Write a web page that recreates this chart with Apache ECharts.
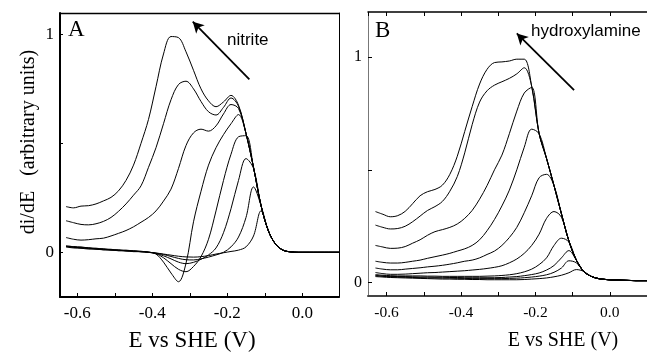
<!DOCTYPE html>
<html>
<head>
<meta charset="utf-8">
<script src="https://cdn.jsdelivr.net/npm/echarts@6/dist/echarts.min.js"></script>
<style>html,body{margin:0;padding:0;background:#fff}#c{width:647px;height:356px}</style>
</head>
<body>
<div id="c"></div>
<script>
// Potential grid (V vs SHE), shared by both panels
const E = [-0.63,-0.61,-0.59,-0.57,-0.55,-0.53,-0.51,-0.49,-0.47,-0.45,-0.43,-0.41,-0.39,-0.37,-0.35,-0.33,-0.31,-0.29,-0.27,-0.25,-0.23,-0.21,-0.19,-0.17,-0.15,-0.13,-0.11,-0.09,-0.07,-0.05,-0.03,-0.01,0.01,0.03,0.05,0.07,0.09,0.10];

// Panel A: nitrite titration (low -> high)
const A1 = [0.025,0.020,0.019,0.015,0.015,0.011,0.011,0.007,0.007,0.003,0.003,0.000,-0.003,-0.008,-0.013,-0.018,-0.021,-0.022,-0.020,-0.015,-0.008,-0.002,0.004,0.010,0.025,0.075,0.190,0.097,0.035,0.009,0.002,0,0,0,0,0,0,0];
const A2 = [0.026,0.022,0.021,0.017,0.016,0.012,0.012,0.008,0.008,0.004,0.004,0.000,-0.004,-0.010,-0.019,-0.028,-0.034,-0.035,-0.030,-0.022,-0.012,0.000,0.025,0.070,0.160,0.300,0.215,0.097,0.035,0.009,0.002,0,0,0,0,0,0,0];
const A3 = [0.027,0.024,0.020,0.019,0.015,0.014,0.010,0.010,0.006,0.006,0.002,0.001,-0.005,-0.016,-0.030,-0.045,-0.052,-0.046,-0.032,-0.012,0.020,0.090,0.200,0.330,0.430,0.385,0.215,0.097,0.035,0.009,0.002,0,0,0,0,0,0,0];
const A4 = [0.028,0.026,0.021,0.021,0.016,0.016,0.011,0.011,0.007,0.007,0.003,0.001,-0.006,-0.025,-0.052,-0.078,-0.089,-0.065,-0.020,0.060,0.190,0.330,0.450,0.530,0.535,0.390,0.215,0.097,0.035,0.009,0.002,0,0,0,0,0,0,0];
const A5 = [0.030,0.026,0.025,0.020,0.019,0.015,0.014,0.010,0.010,0.006,0.005,0.000,-0.008,-0.045,-0.095,-0.135,-0.050,0.140,0.280,0.400,0.480,0.540,0.590,0.632,0.545,0.390,0.215,0.097,0.035,0.009,0.002,0,0,0,0,0,0,0];
const A6 = [0.068,0.060,0.056,0.058,0.062,0.065,0.075,0.087,0.100,0.117,0.138,0.160,0.190,0.235,0.290,0.385,0.490,0.548,0.565,0.556,0.580,0.635,0.678,0.660,0.545,0.390,0.215,0.097,0.035,0.009,0.002,0,0,0,0,0,0,0];
const A7 = [0.145,0.136,0.128,0.126,0.131,0.142,0.160,0.188,0.222,0.262,0.305,0.390,0.480,0.590,0.700,0.770,0.785,0.750,0.692,0.645,0.630,0.665,0.708,0.670,0.545,0.390,0.215,0.097,0.035,0.009,0.002,0,0,0,0,0,0,0];
const A8 = [0.210,0.204,0.212,0.214,0.222,0.236,0.252,0.282,0.330,0.400,0.500,0.610,0.760,0.910,0.990,0.985,0.920,0.835,0.750,0.695,0.668,0.690,0.720,0.675,0.545,0.390,0.215,0.097,0.035,0.009,0.002,0,0,0,0,0,0,0];

// Panel B: hydroxylamine titration (low -> high)
const B1 = [0.027,0.025,0.023,0.022,0.021,0.020,0.019,0.018,0.017,0.016,0.016,0.015,0.015,0.014,0.014,0.013,0.013,0.013,0.013,0.013,0.014,0.016,0.018,0.021,0.026,0.033,0.044,0.058,0.050,0.028,0.018,0.014,0.012,0.011,0.010,0.009,0.009,0.009];
const B2 = [0.030,0.028,0.026,0.025,0.024,0.023,0.022,0.021,0.021,0.020,0.020,0.019,0.019,0.018,0.018,0.018,0.018,0.018,0.019,0.020,0.022,0.025,0.029,0.035,0.046,0.065,0.097,0.088,0.050,0.028,0.018,0.014,0.012,0.011,0.010,0.009,0.009,0.009];
const B3 = [0.032,0.030,0.028,0.027,0.027,0.026,0.025,0.025,0.024,0.024,0.023,0.023,0.022,0.022,0.022,0.022,0.022,0.023,0.025,0.027,0.031,0.036,0.043,0.056,0.076,0.110,0.142,0.100,0.050,0.028,0.018,0.014,0.012,0.011,0.010,0.009,0.009,0.009];
const B4 = [0.036,0.033,0.031,0.030,0.030,0.030,0.030,0.029,0.029,0.028,0.028,0.028,0.028,0.028,0.028,0.029,0.030,0.032,0.035,0.040,0.048,0.060,0.080,0.110,0.165,0.197,0.180,0.100,0.050,0.028,0.018,0.014,0.012,0.011,0.010,0.009,0.009,0.009];
const B5 = [0.045,0.040,0.037,0.037,0.038,0.040,0.042,0.044,0.045,0.047,0.049,0.051,0.053,0.056,0.059,0.063,0.068,0.075,0.088,0.105,0.130,0.165,0.215,0.285,0.315,0.290,0.185,0.100,0.050,0.028,0.018,0.014,0.012,0.011,0.010,0.009,0.009,0.009];
const B6 = [0.065,0.060,0.057,0.057,0.060,0.063,0.066,0.070,0.073,0.077,0.082,0.088,0.095,0.100,0.110,0.125,0.140,0.165,0.200,0.245,0.310,0.385,0.465,0.480,0.430,0.305,0.185,0.100,0.050,0.028,0.018,0.014,0.012,0.011,0.010,0.009,0.009,0.009];
const B7 = [0.095,0.090,0.087,0.087,0.090,0.095,0.100,0.108,0.115,0.122,0.130,0.140,0.150,0.165,0.190,0.230,0.280,0.340,0.410,0.500,0.600,0.680,0.660,0.550,0.430,0.305,0.185,0.100,0.050,0.028,0.018,0.014,0.012,0.011,0.010,0.009,0.009,0.009];
const B8 = [0.165,0.158,0.152,0.153,0.160,0.175,0.190,0.210,0.226,0.235,0.245,0.260,0.285,0.320,0.370,0.430,0.500,0.565,0.660,0.760,0.840,0.865,0.660,0.550,0.430,0.305,0.185,0.100,0.050,0.028,0.018,0.014,0.012,0.011,0.010,0.009,0.009,0.009];
const B9 = [0.255,0.245,0.238,0.240,0.250,0.270,0.295,0.320,0.337,0.360,0.405,0.470,0.575,0.700,0.800,0.850,0.875,0.890,0.905,0.925,0.952,0.870,0.660,0.550,0.430,0.305,0.185,0.100,0.050,0.028,0.018,0.014,0.012,0.011,0.010,0.009,0.009,0.009];
const B10 = [0.315,0.303,0.292,0.297,0.316,0.350,0.385,0.403,0.413,0.432,0.480,0.560,0.670,0.780,0.880,0.945,0.975,0.978,0.982,0.990,0.990,0.870,0.660,0.550,0.430,0.305,0.185,0.100,0.050,0.028,0.018,0.014,0.012,0.011,0.010,0.009,0.009,0.009];

const curvesA = [A1,A2,A3,A4,A5,A6,A7,A8];
const curvesB = [B1,B2,B3,B4,B5,B6,B7,B8,B9,B10];

// Arrows (data coordinates of each panel)
const arrowA = {from: [-0.141, 0.794], to: [-0.292, 1.058]};
const arrowB = {from: [-0.096, 0.853], to: [-0.250, 1.104]};

const SERIF = "'Liberation Serif','Times New Roman',serif";
const SANS = "'Liberation Sans',Arial,sans-serif";

const fmtX = v => {
  const k = Math.round(v * 10);
  if (k % 2 !== 0) return '';
  return Math.abs(v) < 1e-9 ? '0.0' : v.toFixed(1);
};
const fmtY = v => Math.abs(v) < 1e-9 ? '0' : (Math.abs(v - 1) < 1e-9 ? '1' : '');

function line(y, xi, yi) {
  return {
    type: 'line', xAxisIndex: xi, yAxisIndex: yi,
    data: E.map((x, i) => [x, y[i]]),
    symbol: 'none', showSymbol: false, smooth: 0.35,
    lineStyle: {color: '#000', width: 1}, silent: true, animation: false, z: 3
  };
}
function arrowSeries(a, xi, yi) {
  return {
    type: 'line', xAxisIndex: xi, yAxisIndex: yi, data: [], silent: true, animation: false,
    markLine: {
      silent: true, animation: false, symbol: ['none', 'arrow'], symbolSize: [9, 11],
      label: {show: false}, lineStyle: {color: '#000', width: 1.8, type: 'solid'},
      emphasis: {disabled: true},
      data: [[{coord: a.from}, {coord: a.to}]]
    }
  };
}

const chart = echarts.init(document.getElementById('c'), null, {renderer: 'canvas'});
const xCommon = (min, max) => ({
  type: 'value', min: min, max: max, minInterval: 0.1, maxInterval: 0.1,
  splitLine: {show: false}
});
chart.setOption({
  animation: false,
  backgroundColor: '#fff',
  grid: [
    {left: 60, top: 13, width: 279, height: 284, containLabel: false},
    {left: 368, top: 12, width: 281.6, height: 284, containLabel: false}
  ],
  xAxis: [
    Object.assign(xCommon(-0.646, 0.098), {gridIndex: 0, position: 'bottom',
      axisLine: {show: true, onZero: false, lineStyle: {color: '#000', width: 2}},
      axisTick: {show: true, inside: true, length: 4, lineStyle: {color: '#000', width: 1}},
      axisLabel: {show: true, formatter: fmtX, showMinLabel: false, showMaxLabel: false, color: '#000', fontFamily: SERIF, fontSize: 17, margin: 8}}),
    Object.assign(xCommon(-0.646, 0.098), {gridIndex: 0, position: 'top',
      axisLine: {show: true, onZero: false, lineStyle: {color: '#000', width: 1.3}},
      axisTick: {show: false}, axisLabel: {show: false}}),
    Object.assign(xCommon(-0.65, 0.1), {gridIndex: 1, position: 'bottom',
      axisLine: {show: true, onZero: false, lineStyle: {color: '#444', width: 2}},
      axisTick: {show: true, inside: true, length: 4, lineStyle: {color: '#000', width: 1}},
      axisLabel: {show: true, formatter: fmtX, showMinLabel: false, showMaxLabel: false, color: '#000', fontFamily: SERIF, fontSize: 15.5, margin: 9}}),
    Object.assign(xCommon(-0.65, 0.1), {gridIndex: 1, position: 'top',
      axisLine: {show: true, onZero: false, lineStyle: {color: '#000', width: 1.5}},
      axisTick: {show: true, inside: true, length: 4, lineStyle: {color: '#000', width: 1}},
      axisLabel: {show: false}})
  ],
  yAxis: [
    {gridIndex: 0, type: 'value', min: -0.205, max: 1.098, minInterval: 0.5, maxInterval: 0.5, position: 'left',
      splitLine: {show: false},
      axisLine: {show: true, onZero: false, lineStyle: {color: '#000', width: 2}},
      axisTick: {show: true, inside: true, length: 3, lineStyle: {color: '#000', width: 1}},
      axisLabel: {show: true, formatter: fmtY, showMinLabel: false, showMaxLabel: false, color: '#000', fontFamily: SERIF, fontSize: 17, margin: 6}},
    {gridIndex: 0, type: 'value', min: -0.205, max: 1.098, position: 'right',
      splitLine: {show: false},
      axisLine: {show: true, onZero: false, lineStyle: {color: '#000', width: 1}},
      axisTick: {show: false}, axisLabel: {show: false}},
    {gridIndex: 1, type: 'value', min: -0.059, max: 1.199, minInterval: 0.5, maxInterval: 0.5, position: 'left',
      splitLine: {show: false},
      axisLine: {show: true, onZero: false, lineStyle: {color: '#777', width: 1}},
      axisTick: {show: true, inside: true, length: 4, lineStyle: {color: '#000', width: 1}},
      axisLabel: {show: true, formatter: fmtY, showMinLabel: false, showMaxLabel: false, color: '#000', fontFamily: SERIF, fontSize: 16, margin: 6}}
  ],
  series: [
    ...curvesA.map(c => line(c, 0, 0)),
    ...curvesB.map(c => line(c, 2, 2)),
    arrowSeries(arrowA, 0, 0),
    arrowSeries(arrowB, 2, 2)
  ],
  graphic: [
    {type: 'text', x: 68, y: 30, silent: true, style: {text: 'A', fill: '#000', font: '23px ' + SERIF, textAlign: 'left', textVerticalAlign: 'middle', align: 'left', verticalAlign: 'middle'}},
    {type: 'text', x: 375, y: 31, silent: true, style: {text: 'B', fill: '#000', font: '23px ' + SERIF, textAlign: 'left', textVerticalAlign: 'middle', align: 'left', verticalAlign: 'middle'}},
    {type: 'text', x: 227, y: 40, silent: true, style: {text: 'nitrite', fill: '#000', font: '17px ' + SANS, textAlign: 'left', textVerticalAlign: 'middle', align: 'left', verticalAlign: 'middle'}},
    {type: 'text', x: 531, y: 31, silent: true, style: {text: 'hydroxylamine', fill: '#000', font: '17px ' + SANS, textAlign: 'left', textVerticalAlign: 'middle', align: 'left', verticalAlign: 'middle'}},
    {type: 'text', x: 29, y: 142, rotation: Math.PI / 2, silent: true, style: {text: 'di/dE   (arbitrary units)', fill: '#000', font: '20px ' + SERIF, textAlign: 'center', textVerticalAlign: 'middle', align: 'center', verticalAlign: 'middle'}},
    {type: 'text', x: 192, y: 341, silent: true, style: {text: 'E vs SHE (V)', fill: '#000', font: '23px ' + SERIF, textAlign: 'center', textVerticalAlign: 'middle', align: 'center', verticalAlign: 'middle'}},
    {type: 'text', x: 563, y: 341, silent: true, style: {text: 'E vs SHE (V)', fill: '#000', font: '20px ' + SERIF, textAlign: 'center', textVerticalAlign: 'middle', align: 'center', verticalAlign: 'middle'}}
  ]
});
</script>
</body>
</html>
